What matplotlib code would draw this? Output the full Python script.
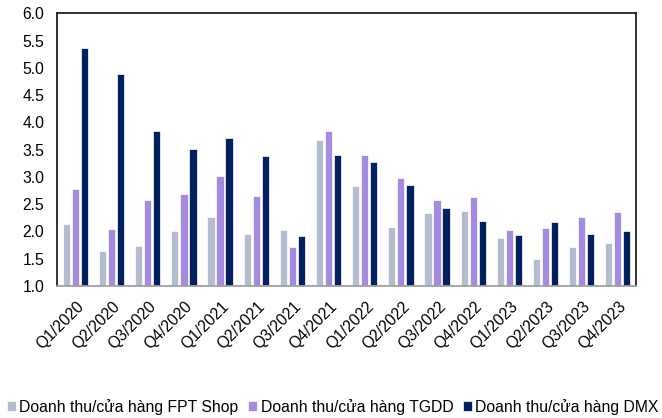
import numpy as np
import matplotlib
matplotlib.use('Agg')
import matplotlib.pyplot as plt
import matplotlib.transforms as mtransforms

plt.rcParams['font.family'] = ['Liberation Sans', 'DejaVu Sans']

quarters = ['Q1/2020', 'Q2/2020', 'Q3/2020', 'Q4/2020',
            'Q1/2021', 'Q2/2021', 'Q3/2021', 'Q4/2021',
            'Q1/2022', 'Q2/2022', 'Q3/2022', 'Q4/2022',
            'Q1/2023', 'Q2/2023', 'Q3/2023', 'Q4/2023']
fpt_shop = [2.14, 1.65, 1.73, 2.00, 2.27, 1.95, 2.03, 3.67,
            2.84, 2.08, 2.34, 2.38, 1.88, 1.49, 1.72, 1.79]
tgdd = [2.78, 2.05, 2.58, 2.69, 3.02, 2.66, 1.72, 3.85,
        3.40, 2.99, 2.58, 2.64, 2.03, 2.06, 2.27, 2.36]
dmx = [5.36, 4.89, 3.85, 3.52, 3.72, 3.39, 1.92, 3.40,
       3.27, 2.85, 2.43, 2.20, 1.94, 2.17, 1.95, 2.01]
series_names = ['Doanh thu/cửa hàng FPT Shop', 'Doanh thu/cửa hàng TGDD',
                'Doanh thu/cửa hàng DMX']
colors = ['#B4BCCF', '#A58BE0', '#00205F']

fs = 11.3
fig = plt.figure(figsize=(6.62, 4.18), dpi=100)
ax = fig.add_axes([0.0866, 0.3158, 0.874, 0.652])

x = np.arange(len(quarters))
w = 0.2
step = 0.25
for i, (vals, name, c) in enumerate(zip([fpt_shop, tgdd, dmx], series_names, colors)):
    ax.bar(x + (i - 1) * step, np.array(vals) - 1.0, bottom=1.0, width=w,
           color=c, edgecolor='white', linewidth=0.5, label=name)

ax.set_xlim(-0.5, len(quarters) - 0.5)
ax.set_ylim(1.0, 6.0)
yt = np.arange(1.0, 6.01, 0.5)
ax.set_yticks(yt)
ax.set_yticklabels([f'{v:.1f}' for v in yt], fontsize=fs)
ax.tick_params(axis='y', length=0, pad=9.5)
ax.tick_params(axis='x', length=0, pad=9)
ax.set_xticks(x)
ax.set_xticklabels(quarters, rotation=45, ha='right', rotation_mode='anchor', fontsize=fs)
# shift rotated labels slightly so their end sits under the group centre
offset = mtransforms.ScaledTranslation(1 / 100, 0, fig.dpi_scale_trans)
for lbl in ax.get_xticklabels():
    lbl.set_transform(lbl.get_transform() + offset)

for s in ['left', 'top', 'right']:
    ax.spines[s].set_color('#222222')
    ax.spines[s].set_linewidth(1.3)
ax.spines['bottom'].set_color('#A0A0A0')
ax.spines['bottom'].set_linewidth(1.3)

fig.legend(loc='lower center', bbox_to_anchor=(0.503, 0.0), ncol=3, frameon=False,
           fontsize=fs, handlelength=0.57, handleheight=0.57, handletextpad=0.2,
           columnspacing=0.64, borderaxespad=0.0, borderpad=0.2)

fig.savefig('out.png', dpi=100)
